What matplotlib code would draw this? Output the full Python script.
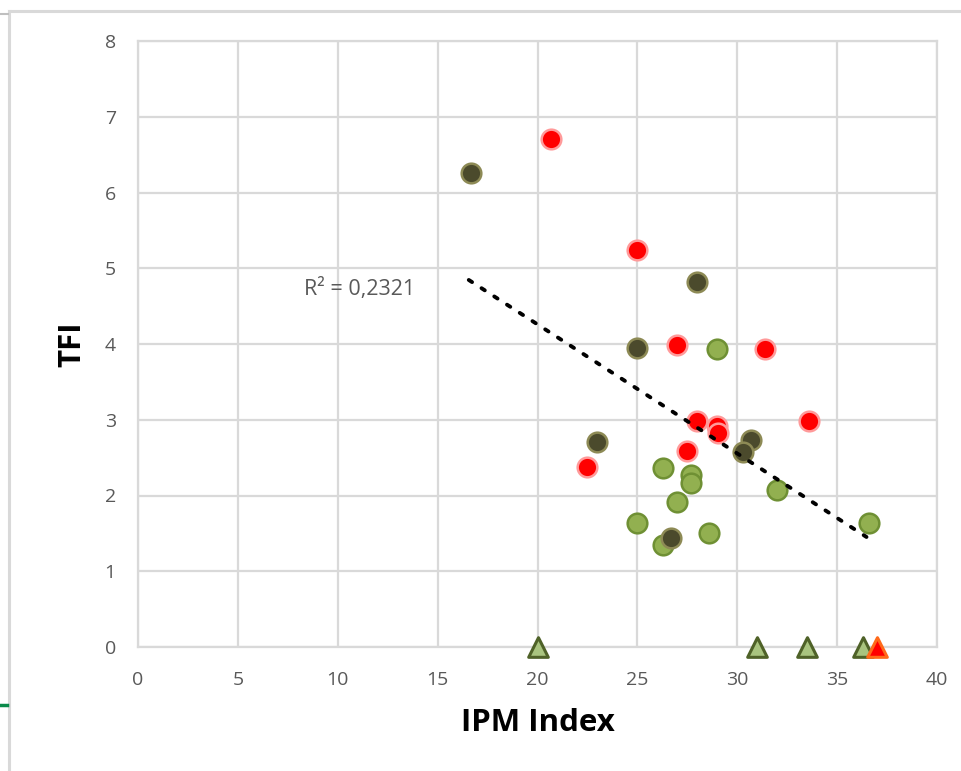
import matplotlib
matplotlib.use("Agg")
import matplotlib.pyplot as plt
from matplotlib.lines import Line2D
import numpy as np

plt.rcParams['font.family'] = ['Open Sans', 'DejaVu Sans']

# Data
dark_x = [16.66, 27.96, 24.96, 23.0, 30.67, 30.27, 26.66]
dark_y = [6.26, 4.82, 3.95, 2.71, 2.73, 2.57, 1.44]

red_x = [20.66, 24.96, 26.96, 31.37, 27.96, 29.0, 29.05, 33.6, 27.5, 22.46]
red_y = [6.71, 5.24, 3.99, 3.93, 2.98, 2.92, 2.83, 2.98, 2.59, 2.38]

green_x = [29.0, 26.3, 27.66, 27.66, 26.96, 31.97, 24.96, 26.3, 28.6, 36.6]
green_y = [3.93, 2.36, 2.27, 2.16, 1.91, 2.07, 1.64, 1.35, 1.50, 1.64]

tri_green_x = [20.0, 31.0, 33.5, 36.3]
tri_green_y = [0, 0, 0, 0]
tri_red_x = [37.0]
tri_red_y = [0]

trend_slope = -0.1704
trend_intercept = 7.667
trend_range = [16.56, 36.47]
r2_label = "R² = 0,2321"

x_ticks = [0, 5, 10, 15, 20, 25, 30, 35, 40]
y_ticks = [0, 1, 2, 3, 4, 5, 6, 7, 8]

fig = plt.figure(figsize=(9.61, 7.71), dpi=100)
ax = fig.add_axes([138/961, 1-647/771, (937-138)/961, (647-41)/771])

grid_c = '#d9d9d9'
ax.set_xlim(0, 40)
ax.set_ylim(0, 8)
ax.set_xticks(x_ticks)
ax.set_yticks(y_ticks)
ax.grid(True, color=grid_c, linewidth=1.6)
ax.set_axisbelow(True)
for s in ax.spines.values():
    s.set_color(grid_c)
    s.set_linewidth(1.6)
ax.tick_params(length=0, labelsize=14, labelcolor='#595959')
ax.tick_params(axis='y', pad=16)
ax.tick_params(axis='x', pad=17)

ms = 200
ax.scatter(green_x, green_y, s=ms, c='#92b050', edgecolors='#6f9034', linewidths=1.8, zorder=3)
ax.scatter(dark_x, dark_y, s=ms, c='#4b4a2c', edgecolors='#8d8a55', linewidths=1.8, zorder=3)
ax.scatter(red_x, red_y, s=ms, c='#ff0000', edgecolors='#ff9a9a', linewidths=1.8, zorder=3)

ax.scatter(tri_green_x, tri_green_y, s=200, marker='^', c='#a9c47f', edgecolors='#4f6228',
           linewidths=2.2, zorder=4, clip_on=False)
ax.scatter(tri_red_x, tri_red_y, s=200, marker='^', c='#ff0000', edgecolors='#ff6a1a',
           linewidths=2.2, zorder=4, clip_on=False)

tx = np.array(trend_range)
ax.plot(tx, trend_slope * tx + trend_intercept, linestyle=(0, (1, 2.9)), color='black',
        linewidth=2.8, dash_capstyle='round', zorder=5)

ax.text(8.3, 4.73, r2_label, fontsize=15.5, color='#595959', va='center', ha='left')

ax.set_xlabel('IPM Index', fontsize=22.5, fontweight='bold', color='black', labelpad=14)
ax.set_ylabel('TFI', fontsize=22.5, fontweight='bold', color='black', labelpad=12)

# outer chart frame
fig.add_artist(Line2D([9/961, 9/961], [0, 1-11/771], color='#d9d9d9', linewidth=2.2,
                      transform=fig.transFigure))
fig.add_artist(Line2D([9/961, 1], [1-11/771, 1-11/771], color='#d9d9d9', linewidth=2.2,
                      transform=fig.transFigure))
fig.add_artist(Line2D([0, 8/961], [1-14/771, 1-14/771], color='#bfbfbf', linewidth=1.5,
                      transform=fig.transFigure))
fig.add_artist(Line2D([0, 7/961], [1-705/771, 1-705/771], color='#0a8a4a', linewidth=2.5,
                      transform=fig.transFigure))

fig.savefig('out.png', dpi=100)
